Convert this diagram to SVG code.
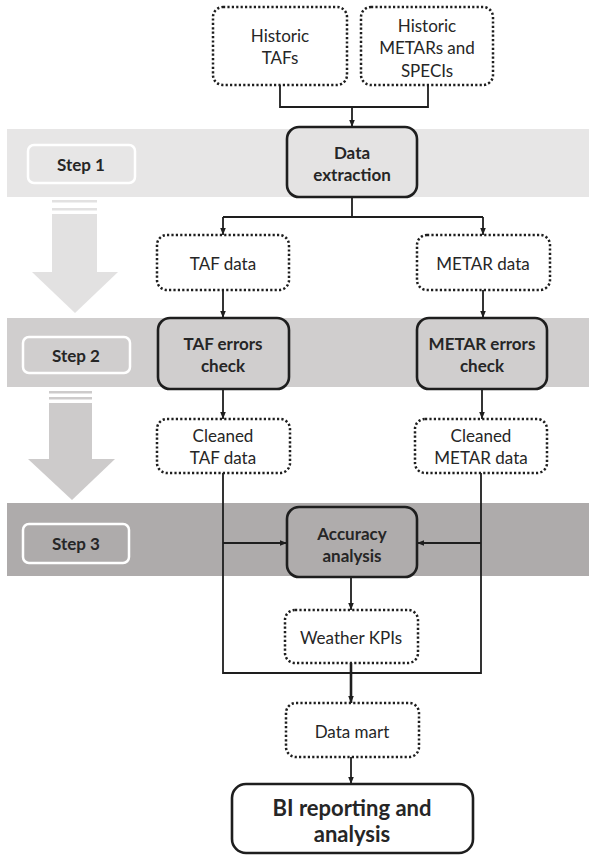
<svg xmlns="http://www.w3.org/2000/svg" width="589" height="856" viewBox="0 0 589 856">
<style>
.t{font-family:Lato,"Liberation Sans",sans-serif;font-size:17px;fill:#262626;text-anchor:middle;dominant-baseline:central}
.b{font-weight:bold}
.dot{fill:#fff;stroke:#1e1e1e;stroke-width:2.5;stroke-dasharray:2.2 2.2}
.solid{stroke:#1e1e1e;stroke-width:2.6}
.step{stroke:#fff;stroke-width:2.5}
.c{fill:none;stroke:#1e1e1e;stroke-width:1.8}
</style>
<defs>
<marker id="ah" viewBox="0 0 10 10" refX="10" refY="5" markerUnits="userSpaceOnUse" markerWidth="7" markerHeight="7" orient="auto">
<path d="M0,1 L10,5 L0,9 z" fill="#1e1e1e"/>
</marker>
</defs>
<g id="bands">
<rect x="7" y="129" width="582" height="68" fill="#e7e6e6"/>
<rect x="7" y="318" width="582" height="69" fill="#d0cece"/>
<rect x="7" y="503" width="582" height="73" fill="#aeabab"/>
</g>
<g id="arrow1" fill="#e2e1e1">
<rect x="52" y="200" width="45" height="2.5"/>
<rect x="52" y="208" width="45" height="2.5"/>
<rect x="52" y="214" width="45" height="58"/>
<polygon points="32,272 118,272 75,313"/>
</g>
<g id="arrow2" fill="#cdcbcb">
<rect x="49" y="391" width="43" height="2.5"/>
<rect x="49" y="397" width="43" height="2.5"/>
<rect x="49" y="403" width="43" height="56"/>
<polygon points="28,459 115,459 72,500"/>
</g>
<g id="step1"><rect class="step" x="28" y="145" width="107" height="38" rx="6" fill="#e7e6e6"/><text class="t b" x="81" y="164">Step 1</text></g>
<g id="step2"><rect class="step" x="23" y="337" width="107" height="36" rx="6" fill="#d0cece"/><text class="t b" x="76" y="355">Step 2</text></g>
<g id="step3"><rect class="step" x="23" y="524" width="106" height="39" rx="6" fill="#aeabab"/><text class="t b" x="76" y="543">Step 3</text></g>
<g id="connectors">
<path class="c" d="M280 85 V107 H428 V85"/>
<path class="c" d="M352 107 V127" marker-end="url(#ah)"/>
<path class="c" d="M352 197 V217 M223 217 H483"/>
<path class="c" d="M223 217 V235" marker-end="url(#ah)"/>
<path class="c" d="M483 217 V235" marker-end="url(#ah)"/>
<path class="c" d="M223 290 V318" marker-end="url(#ah)"/>
<path class="c" d="M483 290 V318" marker-end="url(#ah)"/>
<path class="c" d="M223 389 V419" marker-end="url(#ah)"/>
<path class="c" d="M482 389 V419" marker-end="url(#ah)"/>
<path class="c" d="M223 473 V673 H481 V473"/>
<path class="c" d="M223 543 H287" marker-end="url(#ah)"/>
<path class="c" d="M481 543 H417" marker-end="url(#ah)"/>
<path class="c" d="M351 577 V610" marker-end="url(#ah)"/>
<path class="c" d="M351 663 V703" style="stroke-width:2.6" marker-end="url(#ah)"/>
<path class="c" d="M351 757 V784" marker-end="url(#ah)"/>
</g>
<g id="historic-tafs"><rect class="dot" x="213" y="7" width="134" height="78" rx="10"/><text class="t" x="280" y="35">Historic</text><text class="t" x="280" y="57">TAFs</text></g>
<g id="historic-metars"><rect class="dot" x="361" y="7" width="132" height="78" rx="10"/><text class="t" x="427" y="25">Historic</text><text class="t" x="427" y="47">METARs and</text><text class="t" x="427" y="70">SPECIs</text></g>
<g id="data-extraction"><rect class="solid" x="287" y="127" width="130" height="70" rx="12" fill="#e4e3e3"/><text class="t b" x="352" y="152">Data</text><text class="t b" x="352" y="174">extraction</text></g>
<g id="taf-data"><rect class="dot" x="157" y="235" width="132" height="55" rx="10"/><text class="t" x="223" y="263">TAF data</text></g>
<g id="metar-data"><rect class="dot" x="417" y="235" width="133" height="55" rx="10"/><text class="t" x="483" y="263">METAR data</text></g>
<g id="taf-errors"><rect class="solid" x="158" y="318" width="131" height="71" rx="12" fill="#d0cece"/><text class="t b" x="223" y="343">TAF errors</text><text class="t b" x="223" y="365">check</text></g>
<g id="metar-errors"><rect class="solid" x="417" y="318" width="130" height="71" rx="12" fill="#d0cece"/><text class="t b" x="482" y="343">METAR errors</text><text class="t b" x="482" y="365">check</text></g>
<g id="cleaned-taf"><rect class="dot" x="157" y="419" width="133" height="54" rx="10"/><text class="t" x="223" y="435">Cleaned</text><text class="t" x="223" y="457">TAF data</text></g>
<g id="cleaned-metar"><rect class="dot" x="415" y="419" width="132" height="54" rx="10"/><text class="t" x="481" y="435">Cleaned</text><text class="t" x="481" y="457">METAR data</text></g>
<g id="accuracy"><rect class="solid" x="287" y="507" width="130" height="70" rx="12" fill="#afacac"/><text class="t b" x="352" y="533">Accuracy</text><text class="t b" x="352" y="555">analysis</text></g>
<g id="weather-kpis"><rect class="dot" x="285" y="610" width="133" height="53" rx="10"/><text class="t" x="351" y="637">Weather KPIs</text></g>
<g id="data-mart"><rect class="dot" x="286" y="703" width="133" height="54" rx="10"/><text class="t" x="352" y="731">Data mart</text></g>
<g id="bi"><rect class="solid" x="232" y="784" width="241" height="69" rx="14" fill="#fff"/><text class="t b" x="352" y="807" style="font-size:22px">BI reporting and</text><text class="t b" x="352" y="833" style="font-size:22px">analysis</text></g>
</svg>
